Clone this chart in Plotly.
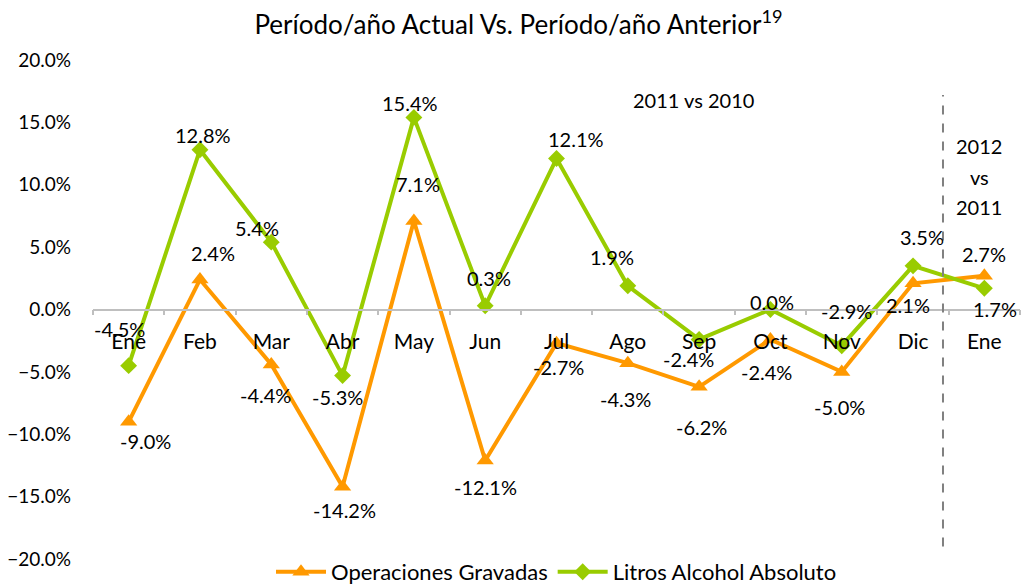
import plotly.graph_objects as go

months = ["Ene", "Feb", "Mar", "Abr", "May", "Jun", "Jul", "Ago", "Sep", "Oct", "Nov", "Dic", "Ene"]
operaciones = [-9.0, 2.4, -4.4, -14.2, 7.1, -12.1, -2.7, -4.3, -6.2, -2.4, -5.0, 2.1, 2.7]
litros = [-4.5, 12.8, 5.4, -5.3, 15.4, 0.3, 12.1, 1.9, -2.4, 0.0, -2.9, 3.5, 1.7]

# label offsets in pixels (dx, dy up)
op_off = [(17, -19), (13, 27), (-6, -31), (2, -23), (4, 37), (0, -27), (2, -24),
          (-2, -36), (2, -40), (-4, -33), (-2, -35), (-5, -22), (0, 22)]
li_off = [(-9, 37), (3, 15), (-14, 14), (-5, -21), (-4, 14), (4, 28), (19, 20),
          (-16, 29), (-11, -20), (2, 8), (5, 35), (9, 29), (11, -21)]

FONT = "Lato"
ORANGE = "#FF9900"
GREEN = "#99CC00"
x = list(range(len(months)))

fig = go.Figure()
fig.add_trace(go.Scatter(
    x=x, y=[v / 100 for v in operaciones], mode="lines+markers",
    name="Operaciones Gravadas",
    line=dict(color=ORANGE, width=4),
    marker=dict(symbol="triangle-up", size=15, color=ORANGE),
))
fig.add_trace(go.Scatter(
    x=x, y=[v / 100 for v in litros], mode="lines+markers",
    name="Litros Alcohol Absoluto",
    line=dict(color=GREEN, width=4),
    marker=dict(symbol="diamond", size=13, color=GREEN),
))

ann = []
for i, v in enumerate(operaciones):
    ann.append(dict(x=i, y=v / 100, text=f"{v:.1f}%", showarrow=False,
                    xshift=op_off[i][0], yshift=op_off[i][1],
                    font=dict(family=FONT, size=20, color="black")))
for i, v in enumerate(litros):
    ann.append(dict(x=i, y=v / 100, text=f"{v:.1f}%", showarrow=False,
                    xshift=li_off[i][0], yshift=li_off[i][1],
                    font=dict(family=FONT, size=20, color="black")))

ann.append(dict(x=7.92, y=0.168, text="2011 vs 2010", showarrow=False,
                font=dict(family=FONT, size=20, color="black")))
for txt, yy in [("2012", 0.131), ("vs", 0.106), ("2011", 0.082)]:
    ann.append(dict(x=11.93, y=yy, text=txt, showarrow=False,
                    font=dict(family=FONT, size=20, color="black")))

fig.add_shape(type="line", x0=11.42, x1=11.42, y0=-0.19, y1=0.172,
              xref="x", yref="y", line=dict(color="#808080", width=2, dash="dash"))

# the page puts the plot 8px from the top-left corner; size the figure for the rest
fig.update_layout(
    width=1021, height=576,
    margin=dict(l=85, r=9, t=52, b=25, autoexpand=False),
    paper_bgcolor="white", plot_bgcolor="white",
    font=dict(family=FONT, size=19, color="black"),
    title=dict(text="Período/año Actual Vs. Período/año Anterior<sup>19</sup>",
               x=0.5, xanchor="center", y=0.97, yanchor="middle",
               font=dict(family=FONT, size=26, color="black")),
    annotations=ann,
    showlegend=True,
    legend=dict(orientation="h", x=0.5, xanchor="center", y=-0.026, yanchor="middle",
                font=dict(family=FONT, size=22, color="black"), bgcolor="rgba(0,0,0,0)",
                itemwidth=50),
    xaxis=dict(
        range=[-0.5, 12.5], tickmode="array", tickvals=x, ticktext=months,
        ticks="", showgrid=False, zeroline=False,
        showline=True, linecolor="#BFBFBF", linewidth=1.5,
        anchor="free", position=0.5, ticklabelstandoff=14,
        tickfont=dict(family=FONT, size=21, color="black"),
        minor=dict(tickmode="linear", tick0=-0.5, dtick=1, ticks="outside",
                   ticklen=5, tickcolor="#BFBFBF", tickwidth=1.5, showgrid=False),
    ),
    yaxis=dict(
        range=[-0.2, 0.2], dtick=0.05, tickformat=".1%",
        showgrid=False, zeroline=False, showline=False, ticks="",
        ticklabelstandoff=21,
        tickfont=dict(family=FONT, size=19, color="black"),
    ),
)

fig.write_html("out.html")
